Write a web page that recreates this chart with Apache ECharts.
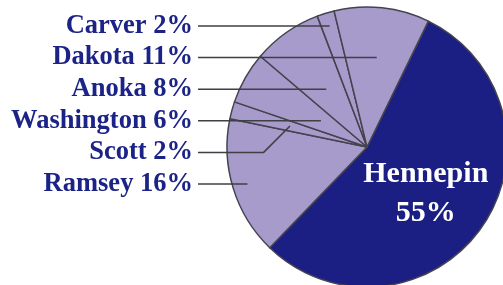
<!DOCTYPE html>
<html>
<head>
<meta charset="utf-8">
<script src="https://cdn.jsdelivr.net/npm/echarts@6/dist/echarts.min.js"></script>
<style>
  html, body { margin: 0; padding: 0; background: #fff; }
  #chart { width: 503px; height: 285px; }
</style>
</head>
<body>
<div id="chart"></div>
<script>
// county shares, in slice order (clockwise from the Hennepin edge)
const counties = ['Hennepin', 'Ramsey', 'Scott', 'Washington', 'Anoka', 'Carver', 'Dakota'];
const shares = [55, 16, 2, 6, 8, 2, 11];
// order the side labels are stacked in, top to bottom
const labelOrder = ['Carver', 'Dakota', 'Anoka', 'Washington', 'Scott', 'Ramsey'];

const CX = 367, CY = 147, R = 140;
const START = 26; // deg clockwise from 12 o'clock
const total = shares.reduce((a, b) => a + b, 0);

// middle angle of slice i, clockwise from top
function midAngle(i) {
  let acc = 0;
  for (let j = 0; j < i; j++) acc += shares[j];
  return START + (acc + shares[i] / 2) / total * 360;
}

const myChart = echarts.init(document.getElementById('chart'));

// the coloured pie, only the Hennepin label drawn inside
const pieData = counties.map((name, i) => {
  const d = { name: name, value: shares[i] };
  if (i === 0) {
    d.itemStyle = { color: '#1b1f84' };
    d.label = {
      show: true,
      position: 'inside',
      formatter: '{b}\n{c}%',
      color: '#fff',
      fontFamily: 'Liberation Serif',
      fontWeight: 'bold',
      fontSize: 30,
      lineHeight: 39,
      offset: [-1, 5]
    };
  }
  return d;
});

// same slices again, invisible, carrying the side labels so their lines sit on top
const labelData = counties.map((name, i) => ({
  name: name,
  value: shares[i],
  label: { show: i !== 0 },
  labelLine: { show: i !== 0 }
}));

const option = {
  animation: false,
  series: [{
    type: 'pie',
    z: 2,
    center: [CX, CY],
    radius: R,
    startAngle: 90 - START,
    clockwise: true,
    silent: true,
    data: pieData,
    itemStyle: {
      color: '#a69bcb',
      borderColor: '#44434f',
      borderWidth: 1.5
    },
    label: { show: false },
    labelLine: { show: false }
  }, {
    type: 'pie',
    z: 5,
    center: [CX, CY],
    radius: R,
    startAngle: 90 - START,
    clockwise: true,
    silent: true,
    avoidLabelOverlap: false,
    data: labelData,
    itemStyle: { color: 'rgba(0,0,0,0)', borderWidth: 0 },
    label: {
      position: 'outside',
      formatter: '{b} {c}%',
      fontFamily: 'Liberation Serif',
      fontWeight: 'bold',
      fontSize: 26.5,
      color: '#1c2387'
    },
    labelLine: {
      showAbove: true,
      lineStyle: { color: '#3f3f46', width: 1.5 }
    },
    labelLayout: function (params) {
      const i = params.dataIndex;
      if (i === 0) return {};
      const rank = labelOrder.indexOf(counties[i]);
      const ly = 26 + rank * 31.6;
      const lx = 193;
      const a = midAngle(i) * Math.PI / 180;
      const ux = Math.sin(a), uy = -Math.cos(a);
      const start = [lx + 5, ly];
      let pts;
      const t = (ly - CY) / uy;
      if (t > 0.3 * R && t < 0.95 * R) {
        const ex = CX + ux * t;
        pts = [start, [(start[0] + ex) / 2, ly], [ex, ly]];
      } else {
        const ex = CX + ux * 0.57 * R, ey = CY + uy * 0.57 * R;
        pts = [start, [ex - Math.abs(ly - ey), ly], [ex, ey]];
      }
      return {
        x: lx,
        y: ly,
        align: 'right',
        verticalAlign: 'middle',
        labelLinePoints: pts
      };
    }
  }]
};

myChart.setOption(option);
</script>
</body>
</html>
